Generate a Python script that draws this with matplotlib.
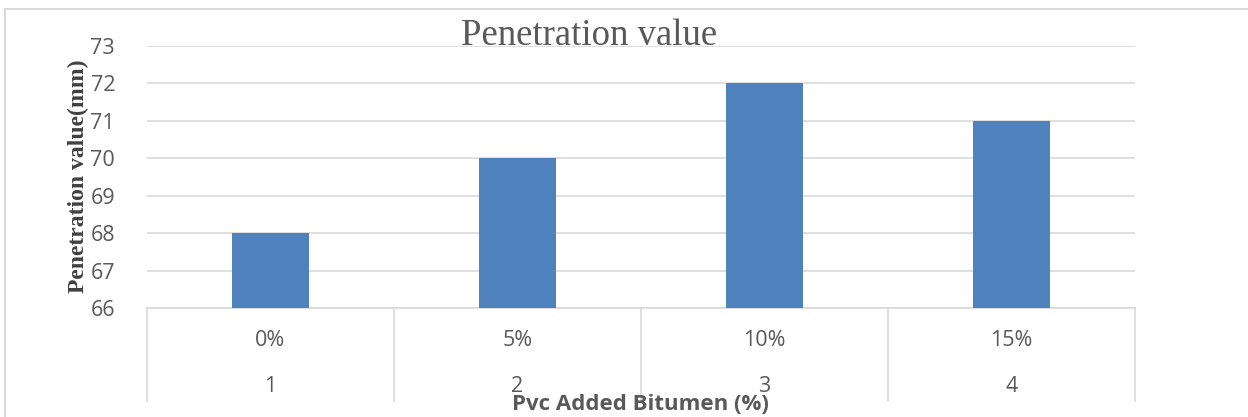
import matplotlib
matplotlib.use("Agg")
import matplotlib.pyplot as plt
from matplotlib.patches import Rectangle

categories = ["0%", "5%", "10%", "15%"]
outer_labels = ["1", "2", "3", "4"]
values = [68, 70, 72, 71]
yticks = [66, 67, 68, 69, 70, 71, 72, 73]

W, H = 1248, 417
fig = plt.figure(figsize=(W / 100, H / 100), dpi=100)

# outer chart border
fig.patches.append(Rectangle((5 / W, -0.1), 1.2, (H - 9) / H + 0.1, transform=fig.transFigure,
                             fill=False, edgecolor="#d9d9d9", linewidth=1.5))

left, right = 147 / W, 1135 / W
top, bottom = 1 - 46 / H, 1 - 308 / H
ax = fig.add_axes([left, bottom, right - left, top - bottom])

x = list(range(len(categories)))
ax.bar(x, values, width=0.31, bottom=0, color="#4f81bd", zorder=3)
ax.set_xlim(-0.5, len(categories) - 0.5)
ax.set_ylim(66, 73)
ax.set_yticks(yticks)
ax.set_yticklabels([str(v) for v in yticks], fontsize=15.5, color="#595959", family="Open Sans")
ax.tick_params(axis="y", length=0, pad=23)
ax.tick_params(axis="x", length=0, labelbottom=False)
ax.grid(axis="y", color="#d9d9d9", linewidth=1.2, zorder=0)
for s in ["top", "right", "left"]:
    ax.spines[s].set_visible(False)
ax.spines["bottom"].set_color("#d9d9d9")
ax.spines["bottom"].set_linewidth(1.2)

# multi-level category axis
trans = ax.get_xaxis_transform()
sep_len = (401 - 308) / (308 - 46)
for i in range(len(categories) + 1):
    ax.plot([i - 0.5, i - 0.5], [0, -sep_len], transform=trans, color="#d9d9d9",
            linewidth=1.2, clip_on=False)
for i, (c, o) in enumerate(zip(categories, outer_labels)):
    ax.text(i, -(340 - 308) / (308 - 46), c, transform=trans, ha="center", va="center",
            fontsize=15.5, color="#595959", family="Open Sans")
    ax.text(i, -(386 - 308) / (308 - 46), o, transform=trans, ha="center", va="center",
            fontsize=15.5, color="#595959", family="Open Sans")

fig.text(640 / W, 1 - 404 / H, "Pvc Added Bitumen (%)", ha="center", va="center",
         fontsize=16, fontweight="bold", color="#595959", family="Open Sans")
fig.text(78 / W, 1 - 176 / H, "Penetration value(mm)", ha="center", va="center",
         rotation=90, fontsize=17, fontweight="bold", color="#404040",
         family="Liberation Serif")
fig.text(589 / W, 1 - 36 / H, "Penetration value", ha="center", va="center",
         fontsize=26.5, color="#595959", family="Liberation Serif")

fig.savefig("out.png", dpi=100)
